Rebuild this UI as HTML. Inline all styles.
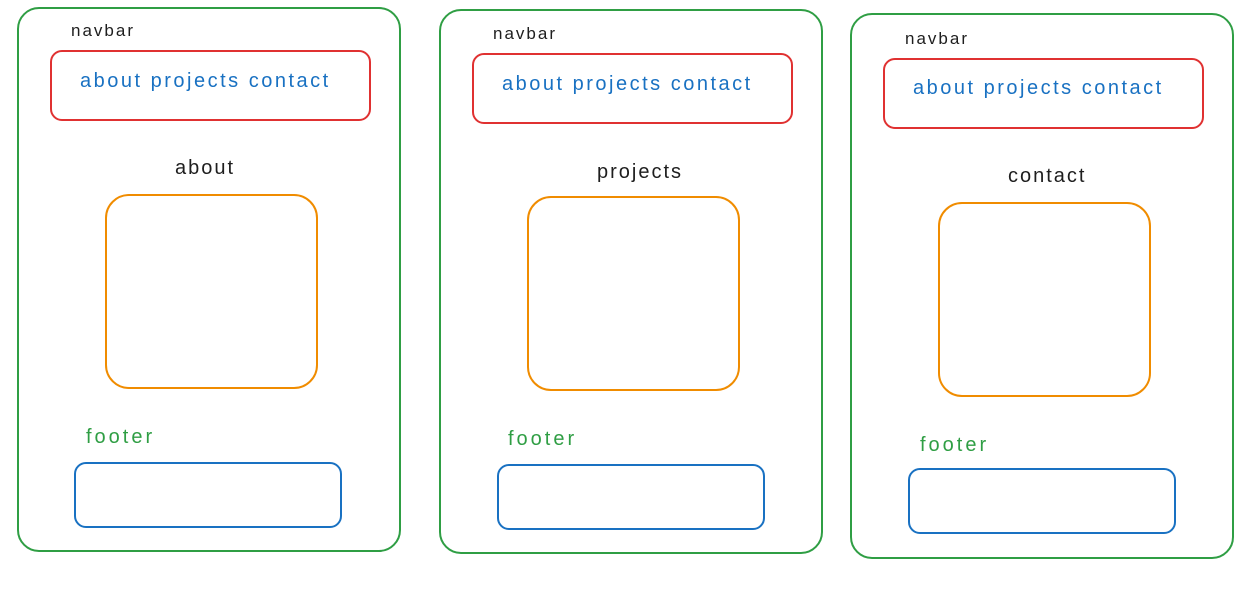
<!DOCTYPE html>
<html><head><meta charset="utf-8"><style>
body{margin:0;width:1259px;height:603px;background:#fff;position:relative;overflow:hidden;font-family:"Liberation Sans",sans-serif}
.b{position:absolute;box-sizing:border-box;border-style:solid;border-width:2px}
.t{position:absolute;white-space:nowrap}
.n{font-size:17px;color:#1e1e1e;letter-spacing:2px}
.a{font-size:20px;color:#1971c2;letter-spacing:2.5px}
.h{font-size:20px;color:#1e1e1e;letter-spacing:2px}
.f{font-size:20px;color:#2f9e44;letter-spacing:3px}
</style></head><body>
<div class="b" style="left:17px;top:7px;width:384px;height:545px;border-color:#2f9e44;border-radius:22px"></div>
<div class="t n" style="left:71px;top:21px">navbar</div>
<div class="b" style="left:50px;top:50px;width:321px;height:71px;border-color:#e03131;border-radius:12px"></div>
<div class="t a" style="left:80px;top:70px">about projects contact</div>
<div class="t h" style="left:175px;top:157px">about</div>
<div class="b" style="left:105px;top:194px;width:213px;height:195px;border-color:#f08c00;border-radius:24px"></div>
<div class="t f" style="left:86px;top:426px">footer</div>
<div class="b" style="left:74px;top:462px;width:268px;height:66px;border-color:#1971c2;border-radius:12px"></div>

<div class="b" style="left:439px;top:9px;width:384px;height:545px;border-color:#2f9e44;border-radius:22px"></div>
<div class="t n" style="left:493px;top:24px">navbar</div>
<div class="b" style="left:472px;top:53px;width:321px;height:71px;border-color:#e03131;border-radius:12px"></div>
<div class="t a" style="left:502px;top:73px">about projects contact</div>
<div class="t h" style="left:597px;top:161px">projects</div>
<div class="b" style="left:527px;top:196px;width:213px;height:195px;border-color:#f08c00;border-radius:24px"></div>
<div class="t f" style="left:508px;top:428px">footer</div>
<div class="b" style="left:497px;top:464px;width:268px;height:66px;border-color:#1971c2;border-radius:12px"></div>

<div class="b" style="left:850px;top:13px;width:384px;height:546px;border-color:#2f9e44;border-radius:22px"></div>
<div class="t n" style="left:905px;top:29px">navbar</div>
<div class="b" style="left:883px;top:58px;width:321px;height:71px;border-color:#e03131;border-radius:12px"></div>
<div class="t a" style="left:913px;top:77px">about projects contact</div>
<div class="t h" style="left:1008px;top:165px">contact</div>
<div class="b" style="left:938px;top:202px;width:213px;height:195px;border-color:#f08c00;border-radius:24px"></div>
<div class="t f" style="left:920px;top:434px">footer</div>
<div class="b" style="left:908px;top:468px;width:268px;height:66px;border-color:#1971c2;border-radius:12px"></div>
</body></html>
